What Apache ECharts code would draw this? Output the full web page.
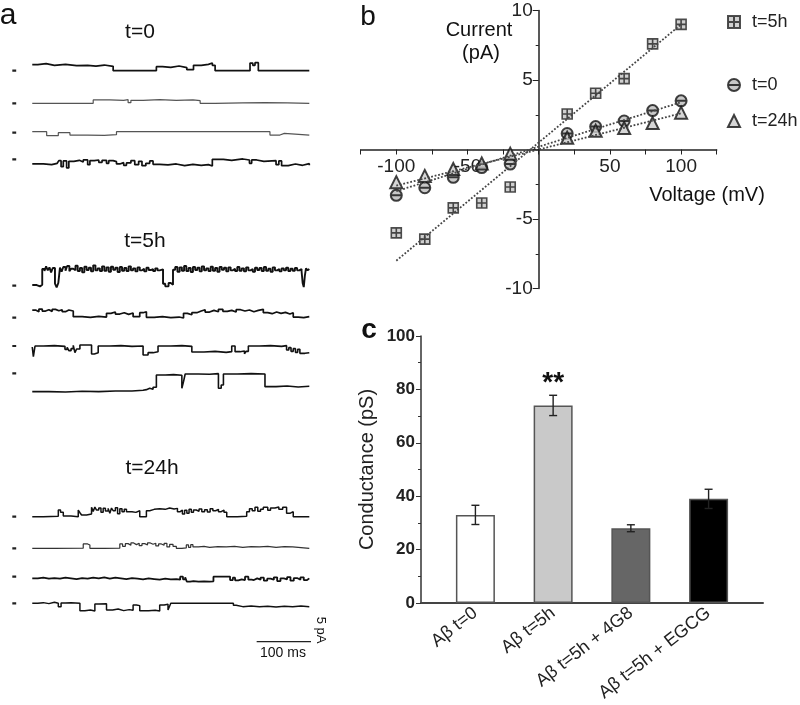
<!DOCTYPE html>
<html><head><meta charset="utf-8">
<script src="https://cdn.jsdelivr.net/npm/echarts@6/dist/echarts.min.js"></script>
<style>html,body{margin:0;padding:0;background:#fff}#c{width:800px;height:705px}</style>
</head><body><div id="c"></div>
<script>
// ---------- Panel a: single-channel traces (time ms, current pA) ----------
const t0Trace1 = [[0,1.8],[10,2.1],[25,1.6],[40,1.9],[60,1.5],[80,1.6],[100,1.4],[115,1.7],[130,1.3],[146,0],[224,1.2],[235,1.0],[250,1.4],[265,0.9],[279,0.3],[291,1.6],[305,1.9],[318,2.3],[325,1.6],[330,0],[393,2.3],[398,1.6],[402,2.4],[408,0],[500,0]];
const t0Trace2 = [[0,0],[110,1.0],[140,0.9],[165,1.1],[173,0.2],[178,0.9],[200,1.1],[230,0.9],[260,1.0],[290,0.8],[303,0],[330,0.1],[380,0.2],[420,0.1],[460,0],[500,0]];
const t0Trace3 = [[0,0.3],[26,-0.9],[47,0],[68,-0.7],[100,-0.8],[130,-0.6],[152,0.3],[300,0.3],[429,-0.7],[447,-0.2],[455,-0.7],[500,-0.7]];
const t0Trace4 = [[0,-1.4],[20,-1.6],[35,-1.2],[45,-1.5],[48,-0.4],[52,-2.2],[56,-0.5],[62,-2.6],[66,-0.6],[75,-0.3],[85,-0.8],[92,-0.2],[100,-1.6],[104,-0.4],[112,-0.2],[120,-0.9],[126,-0.3],[134,-1.2],[138,-0.4],[146,-0.7],[152,-1.4],[158,-1.0],[165,-1.8],[170,-1.1],[178,-0.4],[185,-1.6],[192,-0.6],[198,-1.9],[205,-1.2],[212,-0.5],[218,-1.5],[230,-1.7],[245,-1.4],[260,-1.9],[275,-1.5],[290,-1.8],[305,-1.6],[318,-2.0],[325,0],[345,-0.3],[360,0.1],[380,-0.2],[392,-1.2],[396,-0.2],[405,-0.6],[418,-0.4],[440,-1.6],[445,-0.5],[450,-1.9],[462,-1.4],[475,-1.8],[488,-1.3],[500,-1.8]];

const t5Trace1 = [[0,0.2],[8,-0.2],[14,0.3],[18,5.0],[22,4.4],[25,5.8],[28,4.6],[31,5.5],[34,4.0],[37,5.3],[41,0.6],[44,-0.5],[47,0.8],[50,5.4],[53,4.2],[56,5.6],[60,4.5],[63,5.9],[67,4.3],[70,5.1],[74,4.6],[78,6.0],[82,4.4],[86,5.3],[90,4.0],[94,5.7],[98,4.7],[102,5.4],[106,4.3],[110,6.1],[114,4.6],[118,5.2],[122,4.4],[126,5.8],[130,4.5],[134,5.5],[138,4.2],[142,5.7],[146,4.8],[150,5.4],[154,4.1],[158,5.6],[162,4.5],[166,5.3],[170,4.4],[174,5.8],[178,4.6],[182,5.2],[186,4.3],[190,5.5],[194,4.6],[198,5.1],[202,4.3],[206,5.4],[210,4.7],[214,5.0],[218,4.4],[222,5.2],[226,4.6],[230,4.9],[236,0.6],[240,-0.2],[246,0.8],[250,0.3],[254,4.8],[258,5.6],[262,4.2],[266,5.5],[270,4.5],[274,5.9],[278,4.4],[282,5.3],[286,4.1],[290,5.6],[294,4.7],[298,5.4],[302,4.3],[306,5.8],[310,4.6],[314,5.2],[318,4.4],[322,5.7],[326,4.5],[330,5.3],[334,4.2],[338,5.6],[342,4.8],[346,5.4],[350,4.3],[354,5.5],[358,4.6],[362,5.1],[366,4.4],[370,5.6],[374,4.5],[378,5.2],[382,4.3],[386,5.5],[390,4.6],[394,5.0],[398,4.2],[402,5.4],[406,4.7],[410,5.3],[414,4.4],[418,5.6],[422,4.5],[426,5.1],[430,4.2],[434,5.5],[438,4.6],[442,5.0],[446,4.3],[450,5.2],[454,4.6],[458,5.4],[462,4.4],[466,5.1],[470,4.5],[474,5.3],[478,4.6],[482,5.0],[486,4.4],[488,0.8],[490,-0.4],[492,3.0],[494,5.2],[497,4.6],[500,5.0]];
const t5Trace2 = [[0,2.3],[6,1.8],[12,2.6],[18,2.0],[24,2.4],[30,1.9],[36,2.5],[42,2.1],[48,2.4],[54,1.8],[60,2.3],[66,2.0],[74,0.3],[90,0.1],[105,0.4],[120,0.2],[134,1.3],[142,1.7],[150,1.1],[158,1.5],[166,1.0],[174,1.4],[182,0.3],[194,1.5],[200,1.8],[206,0.1],[220,0.3],[235,0],[250,0.2],[265,-0.1],[273,1.3],[280,0.9],[288,1.5],[297,2.0],[305,2.4],[312,1.7],[320,2.2],[328,1.8],[336,2.5],[344,1.9],[352,2.2],[360,1.7],[368,2.4],[376,2.0],[384,2.3],[392,1.8],[400,2.2],[408,2.5],[417,1.5],[425,1.2],[433,1.7],[441,1.3],[449,1.6],[457,1.1],[465,1.5],[471,0.2],[480,0],[490,0.3],[500,0.1]];
const t5Trace3 = [[0,-0.3],[2,-3.2],[5,0],[20,0.1],[40,-0.1],[59,-1.0],[63,-0.4],[66,-1.4],[70,-0.8],[74,0.2],[77,-2.0],[80,-0.9],[86,0.3],[107,-2.4],[112,-2.0],[119,0],[140,0.1],[160,-0.1],[180,0],[200,-2.7],[209,-2.0],[218,-1.7],[227,0],[250,0.1],[270,-0.1],[288,-1.8],[310,-1.6],[330,-1.9],[350,-1.7],[360,0],[366,-1.7],[375,-1.5],[383,-2.3],[386,-1.6],[390,0],[410,0.1],[430,-0.1],[450,0.1],[459,-1.2],[463,-0.5],[467,-1.6],[471,-0.8],[475,-1.9],[479,-1.0],[483,-2.2],[492,-2.0],[500,-2.2]];
const t5Trace4 = [[0,-5.5],[30,-5.6],[60,-5.4],[90,-5.5],[120,-5.3],[150,-5.3],[180,-5.1],[200,-4.9],[206,-4.5],[212,-4.8],[218,-4.2],[224,-0.5],[240,-0.4],[255,-0.6],[270,-4.5],[273,-2.5],[276,-0.2],[300,-0.3],[320,-0.1],[336,-4.5],[341,-3.5],[345,-0.2],[370,-0.1],[395,-0.2],[420,-4.0],[440,-3.8],[460,-4.1],[480,-3.9],[500,-4.0]];

const t24Trace1 = [[0,0],[20,0.1],[47,2.0],[51,1.3],[56,0.2],[70,0],[83,2.0],[86,1.2],[89,0.5],[98,0.8],[107,2.8],[110,1.6],[113,2.9],[116,2.0],[120,2.6],[124,1.3],[128,2.5],[132,1.7],[137,2.5],[140,1.0],[143,2.6],[146,1.8],[150,2.7],[154,0.9],[158,2.4],[162,1.5],[166,2.2],[170,1.5],[180,1.3],[187,1.8],[194,0],[206,1.8],[212,2.2],[220,2.4],[230,2.2],[240,2.6],[248,2.3],[256,2.5],[262,1.5],[267,2.0],[271,0.8],[275,1.9],[279,1.0],[283,2.2],[287,1.3],[291,2.0],[296,1.6],[301,2.3],[306,1.5],[311,2.1],[316,1.4],[321,2.4],[326,1.8],[331,2.2],[336,1.5],[341,2.0],[346,1.3],[351,0],[370,0.1],[387,1.5],[392,2.4],[397,1.8],[402,2.8],[407,1.6],[412,2.2],[417,2.8],[425,1.9],[430,2.6],[438,2.9],[445,2.2],[452,2.8],[459,1.0],[465,1.5],[471,0],[500,0]];
const t24Trace2 = [[0,0],[40,0.05],[92,1.3],[100,1.0],[104,0],[130,0.05],[158,1.3],[163,0.6],[168,1.4],[173,0.9],[178,1.6],[183,1.1],[188,1.5],[193,0.8],[198,1.4],[203,1.0],[208,1.6],[213,1.2],[218,1.5],[223,0.7],[228,1.3],[233,0.9],[238,1.5],[243,0.4],[248,1.2],[254,0.6],[260,0],[270,0.1],[278,1.0],[282,0.3],[286,1.1],[290,0.4],[300,0.6],[310,0.3],[320,0.5],[335,0.4],[350,0.6],[365,0.3],[380,0.5],[395,0.4],[410,0.6],[425,0.3],[440,0.5],[455,0.4],[470,0],[500,0]];
const t24Trace3 = [[0,-0.5],[10,-0.3],[20,-0.6],[30,-0.4],[40,-0.6],[50,-0.3],[60,-0.5],[70,-0.7],[80,-0.4],[90,-0.6],[100,-0.3],[110,-0.5],[120,-0.2],[130,-0.6],[140,-0.3],[150,-0.5],[160,-0.7],[170,-0.4],[180,-0.6],[190,-0.8],[200,-0.5],[210,-0.7],[220,-0.9],[230,-0.6],[240,-0.8],[250,-0.7],[260,-0.9],[267,0],[272,-0.8],[276,-0.2],[279,-1.5],[285,-1.3],[291,-1.5],[300,-1.4],[310,-1.5],[320,-1.4],[327,0],[340,0.05],[357,-1.0],[362,-0.3],[366,-1.1],[372,-0.8],[378,-1.0],[384,0],[390,-0.9],[396,-1.0],[400,-0.5],[406,-0.9],[412,-0.3],[418,-1.2],[424,-0.6],[430,-0.9],[436,-0.2],[442,-1.3],[448,-0.5],[454,-0.8],[460,-0.1],[466,-1.2],[472,-0.4],[478,-0.9],[484,-0.2],[490,-1.0],[496,-0.5],[500,-0.6]];
const t24Trace4 = [[0,0],[10,0.2],[20,-0.1],[30,0.3],[40,0],[47,-1.0],[52,0.1],[60,0.2],[70,0],[86,-2.2],[95,-2.0],[105,-2.3],[113,-0.2],[120,-0.1],[134,-2.0],[145,-1.7],[155,-2.2],[165,-1.9],[175,-2.1],[182,-0.5],[188,-0.7],[194,-2.2],[210,-2.1],[222,-2.3],[230,-0.5],[238,-0.3],[245,-2.0],[248,-0.8],[250,0],[280,0.05],[310,0],[340,0.05],[363,-0.6],[368,-1.0],[380,-0.8],[395,-1.0],[410,-0.9],[425,-1.1],[440,-0.9],[455,-1.0],[470,-0.8],[485,-1.0],[500,-0.9]];

const zeroMarkMs = [-36, -29];      // short closed-level marker left of each trace
const scaleBarMs = 100, scaleBarPA = 5;
const scaleBarEndMs = 505;

// ---------- Panel b: I-V ----------
const voltages = [-100,-80,-60,-40,-20,20,40,60,80,100];
const current5h  = [-6.0,-6.45,-4.2,-3.85,-2.7,2.55,4.05,5.1,7.6,9.0];
const current0   = [-3.3,-2.75,-2.0,-1.3,-1.05,1.15,1.65,2.05,2.8,3.5];
const current24h = [-2.35,-1.9,-1.4,-1.0,-0.3,0.85,1.35,1.55,1.9,2.65];
const fitV = [-100, 100];
const fit5h  = [-8.0, 9.0];
const fit0   = [-3.0, 3.4];
const fit24h = [-2.6, 2.6];

// ---------- Panel c: conductance ----------
const condCats = ['Aβ t=0', 'Aβ t=5h', 'Aβ t=5h + 4G8', 'Aβ t=5h + EGCG'];
const condVals = [33, 74, 28, 39];
const condErr  = [3.6, 3.8, 1.3, 3.6];
const condSig  = ['', '**', '', ''];
const condColors = ['#ffffff', '#c9c9c9', '#666666', '#000000'];

// ---------- layout ----------
const FONT = 'Arial, "Liberation Sans", sans-serif';
const traces = [
  {d:t0Trace1, y:70.7, c:'#111', w:1.7}, {d:t0Trace2, y:103.3, c:'#555', w:1.2},
  {d:t0Trace3, y:132.7, c:'#555', w:1.2}, {d:t0Trace4, y:159.3, c:'#111', w:1.7},
  {d:t5Trace1, y:285.7, c:'#111', w:1.9}, {d:t5Trace2, y:317.7, c:'#111', w:1.7},
  {d:t5Trace3, y:346, c:'#111', w:1.6}, {d:t5Trace4, y:373.3, c:'#111', w:1.6},
  {d:t24Trace1, y:516.7, c:'#111', w:1.5}, {d:t24Trace2, y:548.3, c:'#333', w:1.2},
  {d:t24Trace3, y:576.7, c:'#111', w:1.8}, {d:t24Trace4, y:603.3, c:'#111', w:1.5}
];
const TR_LEFT = 10.1, TR_W = 299.2, TR_H = 46.67;
const NOB = {outerBoundsMode:'none', containLabel:false};

const grids = [], xAxes = [], yAxes = [], series = [];
traces.forEach((tr, i) => {
  grids.push(Object.assign({left: TR_LEFT, width: TR_W, top: tr.y - TR_H/2, height: TR_H}, NOB));
  xAxes.push({gridIndex: i, type: 'value', min: -40, max: 500, show: false});
  yAxes.push({gridIndex: i, type: 'value', min: -7, max: 7, show: false});
  series.push({type:'line', xAxisIndex:i, yAxisIndex:i, data: tr.d, step:'end', showSymbol:false,
    lineStyle:{color: tr.c, width: tr.w}, silent:true});
  series.push({type:'line', xAxisIndex:i, yAxisIndex:i, data: zeroMarkMs.map(t => [t, 0]), showSymbol:false,
    lineStyle:{color:'#222', width:2.2}, silent:true});
});
// scale bar grid
const sbIdx = grids.length;
grids.push(Object.assign({left: TR_LEFT, width: TR_W, top: 641.7 - TR_H/2, height: TR_H}, NOB));
xAxes.push({gridIndex: sbIdx, type:'value', min:-40, max:500, show:false});
yAxes.push({gridIndex: sbIdx, type:'value', min:-7, max:7, show:false});
series.push({type:'line', xAxisIndex:sbIdx, yAxisIndex:sbIdx, showSymbol:false, silent:true,
  data: [[scaleBarEndMs - scaleBarMs, 0], [scaleBarEndMs, 0], [scaleBarEndMs, scaleBarPA]],
  lineStyle:{color:'#222', width:1.3}, clip:false});

// panel b grid
const B = {left: 360.7, top: 10.5, width: 356, height: 278};
const bIdx = grids.length;
grids.push(Object.assign({}, B, NOB));
xAxes.push({gridIndex:bIdx, type:'value', min:-125, max:125, interval:25, position:'bottom',
  offset: -B.height/2,
  axisLine:{onZero:false, lineStyle:{color:'#222', width:1.5}},
  axisTick:{length:5, lineStyle:{color:'#222'}},
  axisLabel:{margin:8, fontSize:19, color:'#222', fontFamily:FONT,
    formatter: v => (v !== 0 && v % 50 === 0) ? String(v) : ''},
  splitLine:{show:false}});
yAxes.push({gridIndex:bIdx, type:'value', min:-10, max:10, interval:5, position:'left',
  offset: -B.width/2,
  axisLine:{onZero:false, lineStyle:{color:'#222', width:1.5}},
  axisTick:{length:6, lineStyle:{color:'#222'}},
  minorTick:{show:true, splitNumber:2, length:3, lineStyle:{color:'#222'}},
  axisLabel:{margin:6, fontSize:19, color:'#222', fontFamily:FONT,
    formatter: v => v === 0 ? '' : String(v)},
  splitLine:{show:false}});

const sqSym = 'path://M0,0H10V10H0Z M5,0V10 M0,5H10';
const ciSym = 'path://M10,5A5,5,0,1,1,0,5A5,5,0,1,1,10,5Z M0,5H10';
const fitStyle = {color:'#444', width:1.8, type:'dotted'};
[[fitV, fit5h], [fitV, fit0], [fitV, fit24h]].forEach(([xs, ys], k) => {
  series.push({type:'line', name:'fit'+k, xAxisIndex:bIdx, yAxisIndex:bIdx, showSymbol:false, silent:true,
    data: xs.map((v, j) => [v, ys[j]]), lineStyle: fitStyle});
});
series.push({type:'scatter', name:'t=0', xAxisIndex:bIdx, yAxisIndex:bIdx, symbol: ciSym, symbolSize:11,
  data: voltages.map((v, j) => [v, current0[j]]),
  itemStyle:{color:'#bbb', borderColor:'#111', borderWidth:2}});
series.push({type:'scatter', name:'t=24h', xAxisIndex:bIdx, yAxisIndex:bIdx, symbol:'triangle', symbolSize:12,
  data: voltages.map((v, j) => [v, current24h[j]]),
  itemStyle:{color:'#ccc', borderColor:'#111', borderWidth:2}});
series.push({type:'scatter', name:'t=5h', xAxisIndex:bIdx, yAxisIndex:bIdx, symbol: sqSym, symbolSize:10,
  data: voltages.map((v, j) => [v, current5h[j]]),
  itemStyle:{color:'#c4c4c4', borderColor:'#222', borderWidth:1.6}});

// panel c grid
const cIdx = grids.length;
grids.push(Object.assign({left: 421, top: 336, width: 342, height: 267}, NOB));
xAxes.push({gridIndex:cIdx, type:'value', min:-0.7, max:3.7,
  axisLine:{onZero:false, lineStyle:{color:'#444', width:2}},
  axisTick:{show:false},
  axisLabel:{customValues:[0,1,2,3], formatter: v => condCats[Math.round(v)] || '', rotate:38,
    margin:8, fontSize:18, color:'#222', fontFamily:FONT},
  splitLine:{show:false}});
yAxes.push({gridIndex:cIdx, type:'value', min:0, max:100, interval:20,
  name:'Conductance (pS)', nameLocation:'middle', nameGap:44, nameRotate:90,
  nameTextStyle:{fontSize:20, color:'#222', fontFamily:FONT},
  axisLine:{onZero:false, lineStyle:{color:'#333', width:1.5}},
  axisTick:{length:5, lineStyle:{color:'#333'}},
  minorTick:{show:true, splitNumber:2, length:3, lineStyle:{color:'#333'}},
  axisLabel:{margin:6, fontSize:17, fontWeight:'bold', color:'#222', fontFamily:FONT},
  splitLine:{show:false}});
series.push({type:'bar', xAxisIndex:cIdx, yAxisIndex:cIdx, barWidth:39,
  data: condVals.map((v, i) => ({value:[i, v], itemStyle:{color: condColors[i]},
    label:{show: !!condSig[i], formatter: condSig[i]}})),
  itemStyle:{borderColor:'#555', borderWidth:1.5},
  label:{position:'top', distance:8, fontSize:28, fontWeight:'bold', color:'#111', fontFamily:FONT}});
series.push({type:'custom', xAxisIndex:cIdx, yAxisIndex:cIdx, silent:true,
  data: condVals.map((v, i) => [i, v - condErr[i], v + condErr[i]]),
  renderItem: (params, api) => {
    const x = api.value(0);
    const top = api.coord([x, api.value(2)]), bot = api.coord([x, api.value(1)]);
    const w = 4, st = {stroke:'#222', lineWidth:1.4};
    return {type:'group', children:[
      {type:'line', shape:{x1:top[0], y1:top[1], x2:bot[0], y2:bot[1]}, style:st},
      {type:'line', shape:{x1:top[0]-w, y1:top[1], x2:top[0]+w, y2:top[1]}, style:st},
      {type:'line', shape:{x1:bot[0]-w, y1:bot[1], x2:bot[0]+w, y2:bot[1]}, style:st}
    ]};
  }, z:5});

const txt = (x, y, s, size, extra) => Object.assign({type:'text', x, y,
  style:Object.assign({text:s, fontSize:size, fill:'#111', fontFamily:FONT, align:'center', verticalAlign:'middle'}, extra && extra.style || {})},
  extra && extra.el || {});

const legendBase = {orient:'vertical', itemWidth:12, itemHeight:12, left:722,
  textStyle:{fontSize:18, color:'#222', fontFamily:FONT, padding:[0,0,0,7]}, selectedMode:false};

const chart = echarts.init(document.getElementById('c'), null, {renderer:'canvas'});
chart.setOption({
  animation:false,
  backgroundColor:'#fff',
  grid: grids, xAxis: xAxes, yAxis: yAxes, series,
  legend: [
    Object.assign({}, legendBase, {data:['t=5h'], top:8}),
    Object.assign({}, legendBase, {data:['t=0'], top:71}),
    Object.assign({}, legendBase, {data:['t=24h'], top:107})
  ],
  graphic: [
    txt(8, 16, 'a', 30),
    txt(368, 17, 'b', 28),
    txt(369, 330, 'c', 28, {style:{fontWeight:'bold'}}),
    txt(140, 32, 't=0', 21),
    txt(145, 241, 't=5h', 21),
    txt(152, 468, 't=24h', 21),
    txt(283, 653, '100 ms', 14),
    txt(321, 630, '5 pA', 13, {el:{rotation:-Math.PI/2}}),
    txt(479, 30, 'Current', 20),
    txt(481, 53, '(pA)', 20),
    txt(707, 195, 'Voltage (mV)', 20)
  ]
});
</script></body></html>
